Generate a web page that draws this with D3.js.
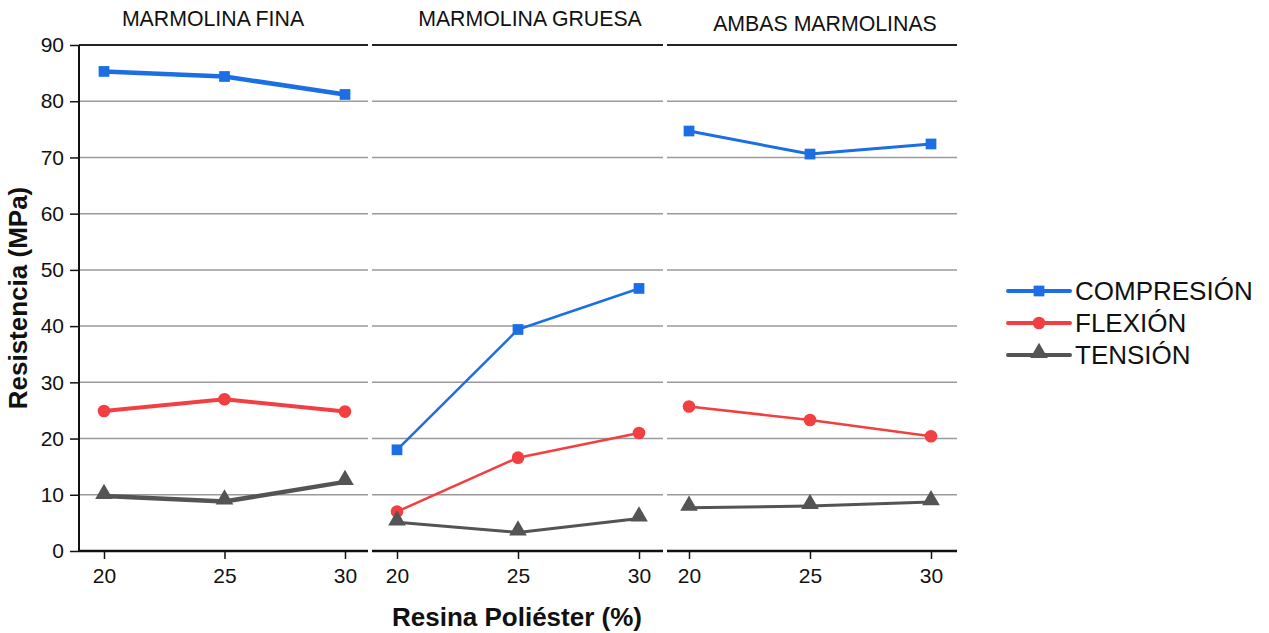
<!DOCTYPE html>
<html>
<head>
<meta charset="utf-8">
<script src="https://cdn.jsdelivr.net/npm/d3@7"></script>
<style>
  html, body { margin: 0; padding: 0; background: #fff; }
  svg { display: block; font-family: "Liberation Sans", Arial, sans-serif; }
</style>
</head>
<body>
<svg id="chart" width="1269" height="633"></svg>
<script>
// Resistance of polyester/marble composites by resin content
const resina = [20, 25, 30];
const paneles = ["MARMOLINA FINA", "MARMOLINA GRUESA", "AMBAS MARMOLINAS"];
const series = ["COMPRESIÓN", "FLEXIÓN", "TENSIÓN"];

const compresion = [
  [85.3, 84.4, 81.2],
  [18.0, 39.4, 46.7],
  [74.7, 70.6, 72.4]
];
const flexion = [
  [24.9, 27.0, 24.8],
  [7.0, 16.6, 21.0],
  [25.7, 23.3, 20.4]
];
const tension = [
  [9.8, 8.8, 12.3],
  [5.1, 3.3, 5.8],
  [7.7, 8.0, 8.7]
];
const yTicks = [0, 10, 20, 30, 40, 50, 60, 70, 80, 90];

const colors = ["#1b6ee3", "#f23f42", "#545454"];
const shapes = [d3.symbolSquare, d3.symbolCircle, d3.symbolTriangle];
const shapeSize = [115, 125, 135];
const values = [compresion, flexion, tension];

const svg = d3.select("#chart");
const plotTop = 45, plotBottom = 551;
const panelX = [[79, 368], [372, 663], [667, 957]];
const pad = [[25, 23], [25, 24], [22, 26]];
const titleX = [213, 530, 825];
const titleY = [26, 26, 31];
const lineW = [[4.5, 4, 4.5], [2.5, 2.5, 3], [3, 2.5, 3]];

const y = d3.scaleLinear().domain([0, 90]).range([plotBottom, plotTop]);

paneles.forEach((name, p) => {
  const [x0, x1] = panelX[p];
  const x = d3.scaleLinear().domain([20, 30]).range([x0 + pad[p][0], x1 - pad[p][1]]);
  const g = svg.append("g");

  // horizontal gridlines
  g.selectAll("line.grid").data(yTicks.filter(t => t > 0 && t < 90)).join("line")
    .attr("x1", x0).attr("x2", x1)
    .attr("y1", d => y(d)).attr("y2", d => y(d))
    .attr("stroke", "#9a9a9a").attr("stroke-width", 1.5);
  // top frame line
  g.append("line").attr("x1", x0).attr("x2", x1)
    .attr("y1", y(90)).attr("y2", y(90))
    .attr("stroke", "#222").attr("stroke-width", 2);

  // x axis
  const xAxis = d3.axisBottom(x).tickValues(resina).tickSize(8).tickPadding(9)
    .tickFormat(d3.format("d"));
  const ax = g.append("g").attr("transform", `translate(0,${plotBottom})`).call(xAxis);
  ax.select(".domain").remove();
  ax.append("line").attr("x1", x0).attr("x2", x1).attr("stroke", "#111").attr("stroke-width", 2.5);
  ax.selectAll(".tick line").attr("stroke", "#111").attr("stroke-width", 1.5);
  ax.selectAll(".tick text").attr("font-size", 21).attr("fill", "#111")
    .attr("font-family", "Liberation Sans, Arial, sans-serif");

  // panel title
  g.append("text").attr("x", titleX[p]).attr("y", titleY[p])
    .attr("text-anchor", "middle").attr("font-size", 21.3).attr("fill", "#111")
    .text(name);

  // series
  values.forEach((vals, s) => {
    const pts = resina.map((r, i) => [x(r), y(vals[p][i])]);
    g.append("path").attr("d", d3.line()(pts))
      .attr("fill", "none").attr("stroke", colors[s]).attr("stroke-width", lineW[p][s])
      .attr("stroke-linejoin", "round");
    g.selectAll(null).data(pts).join("path")
      .attr("transform", d => `translate(${d[0]},${d[1] + (s === 2 ? -2 : 0)})`)
      .attr("d", d3.symbol().type(shapes[s]).size(shapeSize[s]))
      .attr("fill", colors[s]);
  });
});

// y axis
const yAx = svg.append("g").attr("transform", "translate(79,0)")
  .call(d3.axisLeft(y).tickValues(yTicks).tickSize(9).tickPadding(6));
yAx.select(".domain").attr("stroke", "#111").attr("stroke-width", 2)
  .attr("d", `M0,${plotTop}V${plotBottom}`);
yAx.selectAll(".tick line").attr("stroke", "#111").attr("stroke-width", 1.5);
yAx.selectAll(".tick text").attr("font-size", 21).attr("fill", "#111")
  .attr("font-family", "Liberation Sans, Arial, sans-serif");

// axis titles
svg.append("text").attr("transform", "translate(27,298) rotate(-90)")
  .attr("text-anchor", "middle").attr("font-size", 26).attr("font-weight", "bold")
  .attr("fill", "#111").text("Resistencia (MPa)");
svg.append("text").attr("x", 517).attr("y", 626)
  .attr("text-anchor", "middle").attr("font-size", 26).attr("font-weight", "bold")
  .attr("fill", "#111").text("Resina Poliéster (%)");

// legend
const legend = svg.append("g").attr("transform", "translate(1008,291)");
series.forEach((name, s) => {
  const row = legend.append("g").attr("transform", `translate(0,${s * 32})`);
  row.append("line").attr("x1", 0).attr("x2", 62).attr("stroke", colors[s])
    .attr("stroke-width", 4).attr("stroke-linecap", "round");
  row.append("path").attr("transform", `translate(31,${s === 2 ? -2 : 0})`)
    .attr("d", d3.symbol().type(shapes[s]).size(shapeSize[s])).attr("fill", colors[s]);
  row.append("text").attr("x", 67).attr("y", 9).attr("font-size", 26)
    .attr("fill", "#111").text(name);
});
</script>
</body>
</html>
